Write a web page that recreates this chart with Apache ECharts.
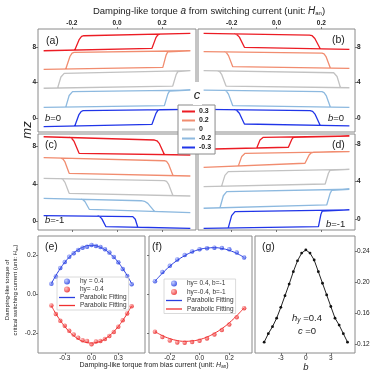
<!DOCTYPE html>
<html><head><meta charset="utf-8">
<script src="https://cdn.jsdelivr.net/npm/echarts@6/dist/echarts.min.js"></script>
<style>html,body{margin:0;padding:0;background:#fff}#c{width:374px;height:375px}</style>
</head><body><div id="c"></div>
<script>
// ---------------- DATA ----------------
const cLevels = ['0.3', '0.2', '0', '-0.2', '-0.3'];
const xTicksTop = [-0.2, 0, 0.2];
const yTicksMz = [0, 4, 8];

// (a) b=0 loops  [a, mz+offset]
const loopsA = [
  [[-0.325,7.58],[0.155,7.85],[0.1725,9.06],[0.181,9.38],[0.19,9.46],[0.325,9.54],[-0.147,9.27],[-0.157,9.19],[-0.167,8.87],[-0.187,7.66]],
  [[-0.325,5.49],[0.203,5.71],[0.2175,7.09],[0.225,7.46],[0.232,7.55],[0.325,7.58],[-0.19,7.4],[-0.199,7.31],[-0.2085,6.93],[-0.227,5.53]],
  [[-0.325,3.35],[0.247,3.6],[0.262,4.88],[0.2695,5.22],[0.277,5.31],[0.325,5.33],[-0.234,5.03],[-0.241,4.95],[-0.2485,4.62],[-0.263,3.38]],
  [[-0.325,1.2],[0.21,1.39],[0.225,2.69],[0.2325,3.03],[0.24,3.12],[0.325,3.15],[-0.197,2.97],[-0.2045,2.88],[-0.212,2.53],[-0.227,1.23]],
  [[-0.325,-0.98],[0.155,-0.71],[0.1725,0.52],[0.181,0.85],[0.19,0.93],[0.325,0.98],[-0.15,0.82],[-0.159,0.73],[-0.1685,0.39],[-0.187,-0.9]]
];
// (b) b=0 loops
const loopsB = [
  [[-0.325,9.54],[0.147,9.35],[0.159,9.27],[0.171,8.96],[0.195,7.8],[0.325,7.74],[-0.143,7.97],[-0.1655,9.11],[-0.177,9.41],[-0.188,9.49]],
  [[-0.325,7.47],[0.203,7.3],[0.212,7.22],[0.2215,6.88],[0.24,5.63],[0.325,5.6],[-0.195,5.78],[-0.214,7.03],[-0.2235,7.36],[-0.233,7.44]],
  [[-0.325,5.33],[0.255,5.1],[0.2625,5.02],[0.27,4.68],[0.285,3.42],[0.325,3.41],[-0.225,3.6],[-0.244,4.88],[-0.2535,5.22],[-0.263,5.31]],
  [[-0.325,3.15],[0.203,2.96],[0.212,2.87],[0.2215,2.53],[0.24,1.23],[0.325,1.2],[-0.195,1.39],[-0.214,2.69],[-0.2235,3.03],[-0.233,3.12]],
  [[-0.325,0.98],[0.15,0.82],[0.161,0.74],[0.1725,0.4],[0.195,-0.84],[0.325,-0.9],[-0.143,-0.68],[-0.1655,0.53],[-0.177,0.85],[-0.188,0.93]]
];
// (c) b=-1 loops
const loopsC = [
  [[-0.325,9.01],[0.166,8.66],[0.177,8.58],[0.188,8.27],[0.21,7.11],[0.325,7.07],[-0.168,7.25],[-0.19,8.51],[-0.201,8.85],[-0.212,8.93]],
  [[-0.325,6.78],[0.21,6.46],[0.2195,6.38],[0.229,6.07],[0.248,4.88],[0.325,4.84],[-0.212,5.12],[-0.2305,6.33],[-0.24,6.65],[-0.249,6.73]],
  [[-0.325,4.59],[0.21,4.34],[0.2195,4.26],[0.229,3.94],[0.248,2.75],[0.325,2.71],[-0.212,3.0],[-0.2305,4.16],[-0.24,4.47],[-0.249,4.55]],
  [[-0.325,2.47],[0.107,2.21],[0.122,2.15],[0.1365,1.93],[0.166,1.07],[0.325,0.94],[-0.123,1.3],[-0.1415,2.1],[-0.151,2.32],[-0.16,2.37]],
  [[-0.325,0.62],[0.07,0.52],[0.0755,0.46],[0.081,0.24],[0.092,-0.61],[0.325,-0.72],[-0.049,-0.55],[-0.0675,0.31],[-0.077,0.54],[-0.086,0.6]]
];
// (d) b=-1 loops
const loopsD = [
  [[-0.325,7.44],[0.053,7.65],[0.068,8.48],[0.0755,8.7],[0.083,8.76],[0.325,8.85],[-0.059,8.71],[-0.066,8.65],[-0.0735,8.43],[-0.088,7.57]],
  [[-0.325,5.52],[0.127,5.95],[0.1455,6.83],[0.155,7.06],[0.164,7.12],[0.325,7.18],[-0.14,7.01],[-0.1475,6.94],[-0.155,6.68],[-0.17,5.67]],
  [[-0.325,3.46],[0.217,3.75],[0.2315,4.89],[0.2385,5.19],[0.246,5.27],[0.325,5.31],[-0.215,5.06],[-0.2225,4.98],[-0.23,4.67],[-0.245,3.5]],
  [[-0.325,1.17],[0.224,1.52],[0.239,2.75],[0.2465,3.08],[0.254,3.16],[0.325,3.19],[-0.222,2.93],[-0.2295,2.84],[-0.237,2.5],[-0.252,1.22]],
  [[-0.325,-0.96],[0.187,-0.79],[0.198,0.52],[0.2035,0.86],[0.209,0.95],[0.325,0.99],[-0.185,0.81],[-0.1925,0.72],[-0.2,0.38],[-0.215,-0.92]]
];

// (e) b=0 critical switching torque vs bias torque
const eX = [-0.45,-0.4,-0.35,-0.3,-0.25,-0.2,-0.15,-0.1,-0.05,0,0.05,0.1,0.15,0.2,0.25,0.3,0.35,0.4,0.45];
const eBlue = [0.055,0.092,0.136,0.167,0.193,0.211,0.228,0.24,0.245,0.254,0.249,0.244,0.232,0.215,0.192,0.166,0.131,0.095,0.053];
const eRed = [-0.056,-0.1,-0.134,-0.16,-0.186,-0.205,-0.222,-0.234,-0.238,-0.255,-0.241,-0.238,-0.228,-0.213,-0.192,-0.165,-0.132,-0.097,-0.06];
const eFitBlue = [0.056,0.097,0.133,0.165,0.191,0.213,0.23,0.242,0.25,0.252,0.25,0.242,0.23,0.213,0.191,0.165,0.133,0.097,0.056];
const eFitRed = [-0.058,-0.098,-0.133,-0.164,-0.19,-0.211,-0.228,-0.24,-0.247,-0.249,-0.247,-0.24,-0.228,-0.211,-0.19,-0.164,-0.133,-0.098,-0.058];

// (f) b=-1
const fX = [-0.3,-0.25,-0.2,-0.15,-0.1,-0.05,0,0.05,0.1,0.15,0.2,0.25,0.3];
const fBlue = [0.068,0.116,0.147,0.18,0.203,0.22,0.232,0.237,0.24,0.238,0.232,0.215,0.19];
const fRed = [-0.191,-0.218,-0.236,-0.246,-0.247,-0.244,-0.237,-0.225,-0.205,-0.182,-0.154,-0.117,-0.07];
const fFitBlue = [0.068,0.109,0.145,0.175,0.199,0.218,0.231,0.238,0.24,0.236,0.226,0.211,0.19];
const fFitRed = [-0.19,-0.211,-0.226,-0.236,-0.24,-0.238,-0.231,-0.218,-0.199,-0.175,-0.145,-0.109,-0.068];

// (g) hy=0.4, c=0
const gX = [-5,-4.5,-4,-3.5,-3,-2.5,-2,-1.5,-1,-0.5,0,0.5,1,1.5,2,2.5,3,3.5,4,4.5,5];
const gVals = [0.123,0.134,0.143,0.154,0.168,0.183,0.198,0.214,0.228,0.238,0.242,0.238,0.229,0.214,0.199,0.184,0.169,0.154,0.145,0.134,0.123];

// ---------------- STYLE ----------------
const FONT = '"Liberation Sans", Arial, sans-serif';
const loopColors = ['#ec1c24', '#f18c6f', '#c2c2c2', '#8db9df', '#2035e8'];
const FIT_BLUE = '#2a3fe0', FIT_RED = '#f03030';
const blueBall = {type:'radial', x:0.35, y:0.35, r:0.7, colorStops:[{offset:0, color:'#b8c4ff'},{offset:1, color:'#1430e0'}]};
const redBall = {type:'radial', x:0.35, y:0.35, r:0.7, colorStops:[{offset:0, color:'#ffb0b0'},{offset:1, color:'#e81818'}]};

const pair = (xs, ys) => xs.map((x, i) => [x, ys[i]]);

const grids = [
  {left:38, top:29, width:158, height:103},
  {left:198, top:29, width:157, height:103},
  {left:38, top:134, width:158, height:96},
  {left:198, top:134, width:157, height:96},
  {left:38, top:236, width:107, height:117},
  {left:149, top:236, width:103, height:117},
  {left:255, top:236, width:100, height:117}
].map(g => Object.assign({show:true, borderColor:'#8a8a8a', borderWidth:1, backgroundColor:'transparent', containLabel:false, outerBoundsMode:'none'}, g));

function axis(gi, min, max, position, ticks, labelOn, fmt, bold) {
  return {
    type:'value', gridIndex:gi, min:min, max:max, position:position,
    axisLine:{show:false, onZero:false}, splitLine:{show:false},
    axisTick:{show:true, inside:false, length:2, customValues:ticks, lineStyle:{color:'#555', width:0.8}},
    axisLabel:{show:labelOn, customValues:ticks, margin:2, fontSize:6.5, fontWeight: bold ? 'bold' : 'normal',
      color:'#222', fontFamily:FONT, formatter:fmt}
  };
}
const f1 = v => v.toFixed(1);
const f0 = v => String(Math.round(v));
const f2 = v => v.toFixed(2);

const xAxes = [
  axis(0, -0.35, 0.35, 'top', xTicksTop, true, f1, true),
  axis(1, -0.35, 0.35, 'top', xTicksTop, true, f1, true),
  axis(2, -0.35, 0.35, 'bottom', xTicksTop, false, f1, true),
  axis(3, -0.35, 0.35, 'bottom', xTicksTop, false, f1, true),
  axis(4, -0.6, 0.6, 'bottom', [-0.3, 0, 0.3], true, f1, false),
  axis(5, -0.34, 0.353, 'bottom', [-0.2, 0, 0.2], true, f1, false),
  axis(6, -6.1, 5.9, 'bottom', [-3, 0, 3], true, f0, false)
];
const yAxes = [
  axis(0, -1.58, 10.03, 'left', yTicksMz, true, f0, true),
  axis(1, -1.58, 10.03, 'right', yTicksMz, true, f0, true),
  axis(2, -0.9, 9.3, 'left', yTicksMz, true, f0, true),
  axis(3, -1.14, 9.06, 'right', yTicksMz, true, f0, true),
  axis(4, -0.3, 0.3, 'left', [-0.2, 0, 0.2], true, f1, false),
  axis(5, -0.3, 0.3, 'left', [-0.2, 0, 0.2], false, f1, false),
  axis(6, 0.109, 0.26, 'right', [0.12, 0.16, 0.2, 0.24], true, f2, false)
];

const series = [];
[loopsA, loopsB, loopsC, loopsD].forEach((panel, p) => {
  panel.forEach((loop, i) => {
    series.push({type:'line', name:cLevels[i], xAxisIndex:p, yAxisIndex:p, data:loop,
      symbol:'none', showSymbol:false, clip:true,
      lineStyle:{color:loopColors[i], width:1.3}, itemStyle:{color:loopColors[i]}, z:3});
  });
});
// (e)
series.push({type:'line', name:'eFitB', xAxisIndex:4, yAxisIndex:4, data:pair(eX, eFitBlue), smooth:true, symbol:'none', lineStyle:{color:FIT_BLUE, width:1}, itemStyle:{color:FIT_BLUE}});
series.push({type:'line', name:'eFitR', xAxisIndex:4, yAxisIndex:4, data:pair(eX, eFitRed), smooth:true, symbol:'none', lineStyle:{color:FIT_RED, width:1}, itemStyle:{color:FIT_RED}});
series.push({type:'scatter', name:'eB', xAxisIndex:4, yAxisIndex:4, data:pair(eX, eBlue), symbolSize:4.5, itemStyle:{color:blueBall}});
series.push({type:'scatter', name:'eR', xAxisIndex:4, yAxisIndex:4, data:pair(eX, eRed), symbolSize:4.5, itemStyle:{color:redBall}});
// (f)
series.push({type:'line', name:'fFitB', xAxisIndex:5, yAxisIndex:5, data:pair(fX, fFitBlue), smooth:true, symbol:'none', lineStyle:{color:FIT_BLUE, width:1}, itemStyle:{color:FIT_BLUE}});
series.push({type:'line', name:'fFitR', xAxisIndex:5, yAxisIndex:5, data:pair(fX, fFitRed), smooth:true, symbol:'none', lineStyle:{color:FIT_RED, width:1}, itemStyle:{color:FIT_RED}});
series.push({type:'scatter', name:'fB', xAxisIndex:5, yAxisIndex:5, data:pair(fX, fBlue), symbolSize:4.5, itemStyle:{color:blueBall}});
series.push({type:'scatter', name:'fR', xAxisIndex:5, yAxisIndex:5, data:pair(fX, fRed), symbolSize:4.5, itemStyle:{color:redBall}});
// (g)
series.push({type:'line', name:'g', xAxisIndex:6, yAxisIndex:6, data:pair(gX, gVals), symbol:'circle', symbolSize:2.8, showSymbol:true,
  lineStyle:{color:'#222', width:1}, itemStyle:{color:'#111'}});

const legendNames = {eB:'hy = 0.4', eR:'hy= -0.4', eFitB:'Parabolic Fitting', eFitR:'Parabolic Fitting',
  fB:'hy= 0.4, b=-1', fR:'hy=-0.4, b=-1', fFitB:'Parabolic Fitting', fFitR:'Parabolic Fitting'};
const LINE_ICON = 'path://M0,0 L16,0 L16,1.3 L0,1.3 Z';
const lineItem = (name, color) => ({name:name, icon:LINE_ICON,
  itemStyle:{color:color, borderWidth:0, borderColor:color}, lineStyle:{color:color, width:0.5}});

const legends = [
  {data:cLevels, left:178, top:105, orient:'vertical', icon:'rect', itemWidth:13, itemHeight:2, itemGap:2,
   padding:[3,4,3,4], backgroundColor:'#fff', borderColor:'#8a8a8a', borderWidth:1, selectedMode:false,
   textStyle:{fontSize:7, fontWeight:'bold', color:'#222', fontFamily:FONT, padding:[0,0,0,-1]}},
  {data:[{name:'eB', icon:'circle'}, {name:'eR', icon:'circle'}, lineItem('eFitB', FIT_BLUE), lineItem('eFitR', FIT_RED)],
   left:57, top:277, orient:'vertical', itemWidth:16, itemHeight:6, itemGap:1,
   padding:[1,2,1,2], backgroundColor:'rgba(255,255,255,0)', borderColor:'#d0d0d0', borderWidth:0.8, selectedMode:false,
   formatter:n => legendNames[n], textStyle:{fontSize:6.5, color:'#333', fontFamily:FONT}},
  {data:[{name:'fB', icon:'circle'}, {name:'fR', icon:'circle'}, lineItem('fFitB', FIT_BLUE), lineItem('fFitR', FIT_RED)],
   left:164, top:279, orient:'vertical', itemWidth:16, itemHeight:6, itemGap:1.5,
   padding:[1,2,1,2], backgroundColor:'rgba(255,255,255,0)', borderColor:'#d0d0d0', borderWidth:0.8, selectedMode:false,
   formatter:n => legendNames[n], textStyle:{fontSize:6.5, color:'#333', fontFamily:FONT}}
];

function txt(text, x, y, size, opts) {
  return Object.assign({type:'text', x:x, y:y, z:50,
    style:Object.assign({text:text, font: size + 'px ' + FONT, fill:'#222', align:'left', verticalAlign:'middle'}, (opts && opts.style) || {})},
    (opts && opts.el) || {});
}
const italic = s => 'italic ' + s + 'px ' + FONT;

const graphics = [
  {type:'rect', shape:{x:193, y:82, width:9, height:23}, style:{fill:'#fff'}, z:40},
  txt('Damping-like torque {i|a} from switching current (unit: {i|H}{s|an})', 209, 11, 9.5,
    {style:{align:'center', rich:{i:{font:italic(10)}, s:{fontSize:6, fontFamily:FONT, padding:[5,0,0,0]}}}}),
  txt('c', 197, 95, 13, {style:{font:italic(13), align:'center'}}),
  txt('mz', 27, 130, 13, {style:{font:italic(13), align:'center'}, el:{rotation:Math.PI/2}}),
  txt('(a)', 46, 41, 10.5), txt('(b)', 332, 40, 10.5), txt('(c)', 45, 145, 10.5), txt('(d)', 332, 145, 10.5),
  txt('(e)', 45, 247, 10.5), txt('(f)', 152, 247, 10.5), txt('(g)', 262, 247, 10.5),
  txt('{i|b}=0', 45, 118, 9.5, {style:{rich:{i:{font:italic(9.5)}}}}),
  txt('{i|b}=0', 328, 118, 9.5, {style:{rich:{i:{font:italic(9.5)}}}}),
  txt('{i|b}=-1', 45, 220, 9.5, {style:{rich:{i:{font:italic(9.5)}}}}),
  txt('{i|b}=-1', 326, 224, 9.5, {style:{rich:{i:{font:italic(9.5)}}}}),
  txt('Damping-like torque of', 7, 290, 6, {style:{align:'center'}, el:{rotation:Math.PI/2}}),
  txt('critical switching current (unit: {i|H}{s|an})', 15, 290, 6,
    {style:{align:'center', rich:{i:{font:italic(6)}, s:{fontSize:4, fontFamily:FONT, padding:[3,0,0,0]}}}, el:{rotation:Math.PI/2}}),
  txt('Damping-like torque from bias current (unit: {i|H}{s|an})', 154, 365, 7,
    {style:{align:'center', rich:{i:{font:italic(7)}, s:{fontSize:4.5, fontFamily:FONT, padding:[4,0,0,0]}}}}),
  txt('{i|h}{s|y} =0.4', 307, 318, 9.5, {style:{align:'center', rich:{i:{font:italic(9.5)}, s:{font:italic(6.5), padding:[5,0,0,0]}}}}),
  txt('{i|c} =0', 307, 331, 9.5, {style:{align:'center', rich:{i:{font:italic(9.5)}}}}),
  txt('b', 306, 367, 9.5, {style:{font:italic(9.5), align:'center'}})
];

const chart = echarts.init(document.getElementById('c'), null, {renderer:'canvas'});
chart.setOption({
  animation:false,
  backgroundColor:'#fff',
  textStyle:{fontFamily:FONT},
  grid:grids, xAxis:xAxes, yAxis:yAxes, series:series, legend:legends, graphic:graphics
});
</script></body></html>
